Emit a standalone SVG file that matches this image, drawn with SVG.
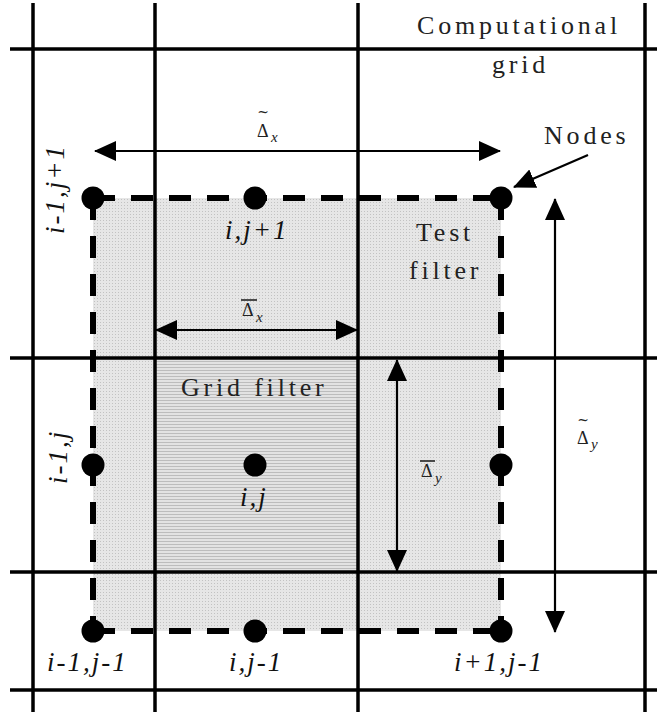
<svg xmlns="http://www.w3.org/2000/svg" width="657" height="715" viewBox="0 0 657 715">
  <defs>
    <pattern id="testfill" width="3" height="3" patternUnits="userSpaceOnUse">
      <rect width="3" height="3" fill="#e6e6e6"/>
      <rect x="1" y="1" width="1" height="1" fill="#c2c2c2"/>
    </pattern>
    <pattern id="gridfill" width="3" height="3" patternUnits="userSpaceOnUse">
      <rect width="3" height="3" fill="#e2e2e2"/>
      <rect x="0" y="1" width="3" height="1" fill="#bcbcbc"/>
    </pattern>
    <marker id="ah" viewBox="0 0 22 20" refX="21" refY="10" markerWidth="22" markerHeight="20" markerUnits="userSpaceOnUse" orient="auto-start-reverse">
      <path d="M0,0 L22,10 L0,20 Z" fill="#000"/>
    </marker>
  </defs>
  <style>
    .grid { stroke: #000; stroke-width: 3.5; fill: none; }
    .dash { stroke: #000; stroke-width: 6; stroke-dasharray: 22 16; fill: none; }
    .node { fill: #000; }
    .arr { stroke: #000; stroke-width: 2.2; fill: none; }
    .lbl { font-family: "Liberation Serif", "Times New Roman", serif; font-size: 26px; letter-spacing: 3.8px; fill: #222; }
    .idx { font-family: "Liberation Serif", "Times New Roman", serif; font-size: 27px; font-style: italic; letter-spacing: 2px; fill: #111; }
    .dl { font-family: "Liberation Serif", "Times New Roman", serif; font-size: 18px; fill: #222; }
    .tl { font-family: "DejaVu Serif", serif; font-size: 14px; fill: #222; }
    .sub { font-family: "Liberation Serif", "Times New Roman", serif; font-size: 15px; font-style: italic; fill: #222; }
  </style>
  <rect width="657" height="715" fill="#fff"/>

  <g id="test-filter-area">
    <rect x="93" y="198" width="408" height="433" fill="url(#testfill)"/>
  </g>
  <g id="grid-filter-area">
    <rect x="155" y="358" width="203" height="214" fill="url(#gridfill)"/>
  </g>

  <g id="computational-grid">
    <line class="grid" x1="33" y1="3" x2="33" y2="712"/>
    <line class="grid" x1="155" y1="3" x2="155" y2="712"/>
    <line class="grid" x1="358" y1="3" x2="358" y2="712"/>
    <line class="grid" x1="645" y1="3" x2="645" y2="712"/>
    <line class="grid" x1="10" y1="49" x2="657" y2="49"/>
    <line class="grid" x1="10" y1="358" x2="657" y2="358"/>
    <line class="grid" x1="10" y1="572" x2="657" y2="572"/>
    <line class="grid" x1="10" y1="690" x2="657" y2="690"/>
  </g>

  <g id="test-filter-border">
    <line class="dash" x1="93" y1="198" x2="501" y2="198"/>
    <line class="dash" x1="93" y1="631" x2="501" y2="631"/>
    <line class="dash" x1="93" y1="198" x2="93" y2="631"/>
    <line class="dash" x1="501" y1="198" x2="501" y2="631"/>
  </g>

  <g id="node-i-1-j+1"><circle class="node" cx="93" cy="198" r="11.5"/><text class="idx" transform="translate(64,234) rotate(-90)">i-1,j+1</text></g>
  <g id="node-i-j+1"><circle class="node" cx="255" cy="198" r="11.5"/><text class="idx" x="225" y="239">i,j+1</text></g>
  <g id="node-i+1-j+1"><circle class="node" cx="501" cy="198" r="11.5"/></g>
  <g id="node-i-1-j"><circle class="node" cx="93" cy="465" r="11.5"/><text class="idx" transform="translate(67,484) rotate(-90)">i-1,j</text></g>
  <g id="node-i-j"><circle class="node" cx="255" cy="465" r="11.5"/><text class="idx" x="240" y="506">i,j</text></g>
  <g id="node-i+1-j"><circle class="node" cx="501" cy="465" r="11.5"/></g>
  <g id="node-i-1-j-1"><circle class="node" cx="93" cy="631" r="11.5"/><text class="idx" x="47" y="671">i-1,j-1</text></g>
  <g id="node-i-j-1"><circle class="node" cx="255" cy="631" r="11.5"/><text class="idx" x="229" y="671">i,j-1</text></g>
  <g id="node-i+1-j-1"><circle class="node" cx="501" cy="631" r="11.5"/><text class="idx" x="454" y="671">i+1,j-1</text></g>

  <g id="connectors">
    <line class="arr" x1="95" y1="151" x2="500" y2="151" marker-start="url(#ah)" marker-end="url(#ah)"/>
    <line class="arr" x1="156" y1="330" x2="357" y2="330" marker-start="url(#ah)" marker-end="url(#ah)"/>
    <line class="arr" x1="397" y1="360" x2="397" y2="571" marker-start="url(#ah)" marker-end="url(#ah)"/>
    <line class="arr" x1="555" y1="199" x2="555" y2="632" marker-start="url(#ah)" marker-end="url(#ah)"/>
    <line class="arr" x1="588" y1="155" x2="514" y2="187" marker-end="url(#ah)"/>
  </g>

  <g id="labels">
    <text class="lbl" x="417" y="34">Computational</text>
    <text class="lbl" x="492" y="73">grid</text>
    <text class="lbl" x="544" y="144">Nodes</text>
    <text class="lbl" x="416" y="241">Test</text>
    <text class="lbl" x="409" y="279">filter</text>
    <text class="lbl" x="181" y="396">Grid filter</text>
  </g>

  <g id="delta-tilde-x">
    <text class="tl" x="263" y="117" text-anchor="middle">~</text>
    <text class="dl" x="257" y="137">Δ</text>
    <text class="sub" x="271" y="142">x</text>
  </g>
  <g id="delta-bar-x">
    <line x1="241" y1="300" x2="257" y2="300" stroke="#222" stroke-width="1.6"/>
    <text class="dl" x="242" y="316">Δ</text>
    <text class="sub" x="256" y="322">x</text>
  </g>
  <g id="delta-bar-y">
    <line x1="420" y1="461" x2="435" y2="461" stroke="#222" stroke-width="1.6"/>
    <text class="dl" x="421" y="477">Δ</text>
    <text class="sub" x="435" y="483">y</text>
  </g>
  <g id="delta-tilde-y">
    <text class="tl" x="583" y="425" text-anchor="middle">~</text>
    <text class="dl" x="577" y="444">Δ</text>
    <text class="sub" x="591" y="449">y</text>
  </g>
</svg>
